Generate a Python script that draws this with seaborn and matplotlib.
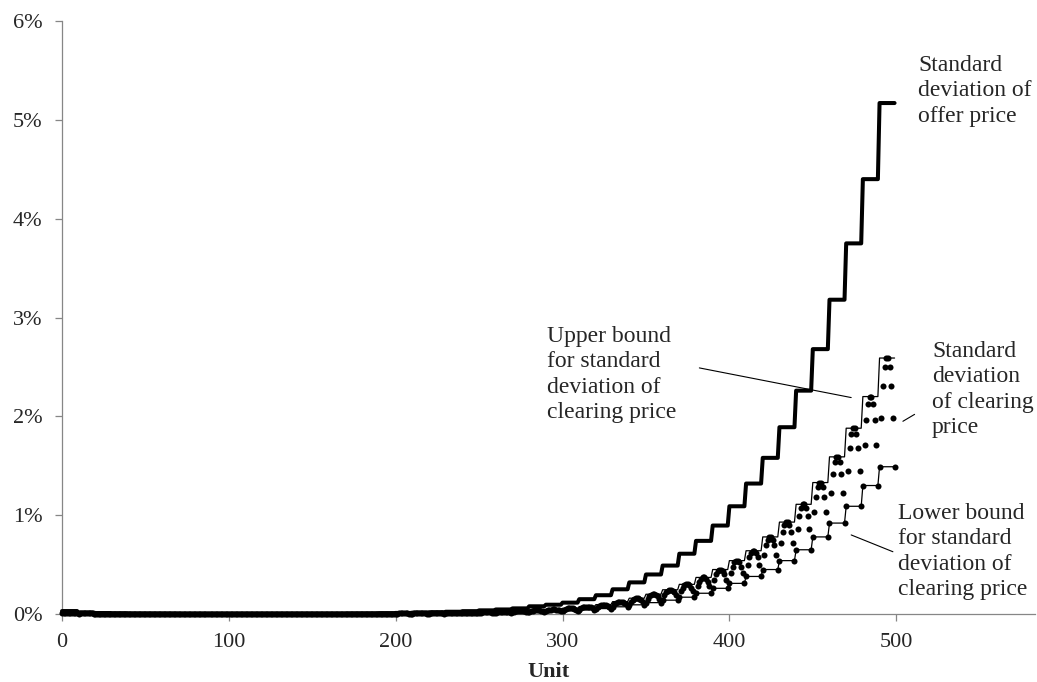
import numpy as np
import pandas as pd
import matplotlib
matplotlib.use("Agg")
import matplotlib.pyplot as plt
import seaborn as sns

# standard deviations in %, one value per block of 10 units (block k = units 10k..10k+9)
offer_std = [0.030, 0.015, 0.010, 0.008, 0.006, 0.005, 0.005, 0.004, 0.004, 0.004,
             0.004, 0.004, 0.004, 0.004, 0.004, 0.005, 0.005, 0.006, 0.007, 0.009,
             0.011, 0.014, 0.018, 0.023, 0.029, 0.037, 0.046, 0.057, 0.078, 0.094,
             0.115, 0.150, 0.190, 0.250, 0.320, 0.400, 0.490, 0.610, 0.740, 0.895,
             1.090, 1.320, 1.580, 1.890, 2.260, 2.680, 3.180, 3.750, 4.400, 5.170]
upper_std = [0.015, 0.008, 0.005, 0.004, 0.003, 0.003, 0.002, 0.002, 0.002, 0.002,
             0.002, 0.002, 0.002, 0.002, 0.002, 0.002, 0.003, 0.003, 0.004, 0.005,
             0.006, 0.007, 0.009, 0.012, 0.015, 0.019, 0.023, 0.029, 0.038, 0.047,
             0.058, 0.075, 0.095, 0.125, 0.160, 0.200, 0.245, 0.300, 0.370, 0.450,
             0.540, 0.640, 0.780, 0.930, 1.110, 1.330, 1.590, 1.880, 2.200, 2.590]
lower_std = [0.009, 0.005, 0.003, 0.002, 0.002, 0.002, 0.001, 0.001, 0.001, 0.001,
             0.001, 0.001, 0.001, 0.001, 0.001, 0.001, 0.002, 0.002, 0.002, 0.003,
             0.003, 0.004, 0.005, 0.007, 0.009, 0.011, 0.013, 0.017, 0.022, 0.027,
             0.034, 0.043, 0.055, 0.073, 0.093, 0.115, 0.140, 0.170, 0.210, 0.260,
             0.310, 0.380, 0.450, 0.540, 0.650, 0.780, 0.920, 1.090, 1.300, 1.490]
# position of the clearing-price std inside each block, 0 = lower bound, 1 = upper bound
block_shape = [0.0, 0.45, 0.74, 0.92, 1.0, 1.0, 0.92, 0.74, 0.45, 0.0]

block_size = 10
units = np.arange(len(offer_std) * block_size)
offer = np.repeat(offer_std, block_size)
upper = np.repeat(upper_std, block_size)
lower = np.repeat(lower_std, block_size)
clearing = lower + np.tile(block_shape, len(offer_std)) * (upper - lower)

df = pd.DataFrame({"Unit": units, "offer": offer, "upper": upper,
                   "lower": lower, "clearing": clearing})

sns.set_style("white")
plt.rcParams["font.family"] = ["Liberation Serif", "DejaVu Serif"]

fig = plt.figure(figsize=(10.37, 6.82), dpi=100)
ax = fig.add_axes([0.0598, 0.0997, 0.938, 0.8695])

sns.lineplot(data=df, x="Unit", y="upper", color="black", linewidth=0.9, ax=ax, clip_on=False)
sns.lineplot(data=df, x="Unit", y="lower", color="black", linewidth=0.9, ax=ax, clip_on=False)
sns.scatterplot(data=df, x="Unit", y="clearing", color="black", s=19, linewidth=0,
                ax=ax, clip_on=False, zorder=3)
sns.lineplot(data=df, x="Unit", y="offer", color="black", linewidth=2.9, ax=ax,
             clip_on=False, zorder=4)

ax.set_xlim(0, 583)
ax.set_ylim(0, 6)
ax.set_xticks([0, 100, 200, 300, 400, 500])
ax.set_yticks(range(0, 7))
ax.set_yticklabels([f"{v}%" for v in range(0, 7)])
ax.tick_params(axis="both", direction="out", length=5, width=0.9, color="#868686",
               labelsize=16, pad=9, bottom=True, left=True)
for side in ["top", "right"]:
    ax.spines[side].set_visible(False)
for side in ["left", "bottom"]:
    ax.spines[side].set_color("#868686")
    ax.spines[side].set_linewidth(0.9)

ax.set_xlabel("Unit", fontsize=16, fontweight="bold", labelpad=7)
ax.set_ylabel("")

txt = dict(fontsize=17, linespacing=1.27, ha="left", va="top")
fig.text(918 / 1037, 1 - 55 / 682, "Standard\ndeviation of\noffer price", **txt)
fig.text(547 / 1037, 1 - 326 / 682, "Upper bound\nfor standard\ndeviation of\nclearing price", **txt)
fig.text(932 / 1037, 1 - 341 / 682, "Standard\ndeviation\nof clearing\nprice", **txt)
fig.text(898 / 1037, 1 - 503 / 682, "Lower bound\nfor standard\ndeviation of\nclearing price", **txt)

# pointer lines, in data coordinates
ax.plot([382, 473], [2.49, 2.19], color="black", linewidth=0.8)
ax.plot([504, 511], [1.95, 2.02], color="black", linewidth=0.8)
ax.plot([473, 498], [0.80, 0.63], color="black", linewidth=0.8)

fig.savefig("out.png", dpi=100)
